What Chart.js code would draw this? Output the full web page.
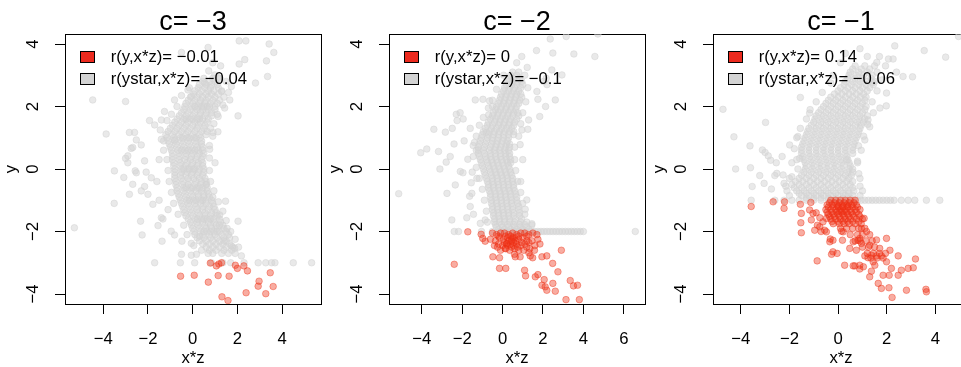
<!DOCTYPE html>
<html><head><meta charset="utf-8">
<script src="https://cdn.jsdelivr.net/npm/chart.js@4.4.1/dist/chart.umd.min.js"></script>
<style>
html,body{margin:0;padding:0;background:#fff;overflow:hidden;width:961px;height:367px;position:relative}
canvas{position:absolute;top:0}
</style></head><body>
<script>
// ---------------- DATA ----------------
const panelTitles = ['c= \u22123', 'c= \u22122', 'c= \u22121'];
const redLabels = ['r(y,x*z)= \u22120.01', 'r(y,x*z)= 0', 'r(y,x*z)= 0.14'];
const greyLabels = ['r(ystar,x*z)= \u22120.04', 'r(ystar,x*z)= \u22120.1', 'r(ystar,x*z)= \u22120.06'];
const xTicksC3 = [-4, -2, 0, 2, 4];
const xTicksC2 = [-4, -2, 0, 2, 4, 6];
const xTicksC1 = [-4, -2, 0, 2, 4];
const yTicks = [-4, -2, 0, 2, 4];
const xRangeC3 = [-5.71, 5.74];
const xRangeC2 = [-5.62, 7.05];
const xRangeC1 = [-5.14, 5.38];
const yRange = [-4.32, 4.32];

// panel c = -3 : grey (ystar) rows [y, [x...]] and scattered [x, y]
const greyRowsC3 = [
 [2.9,[0.5,0.9,1.2]],[2.7,[0.3,0.6,0.85,1.1]],[2.5,[0.1,0.4,0.7,0.95,1.3]],
 [2.3,[-0.1,0.2,0.45,0.7,1.0,1.4]],[2.1,[-0.3,0.0,0.3,0.55,0.8,1.1]],[1.9,[-0.4,-0.1,0.2,0.45,0.7,1.0]],
 [1.7,[-0.6,-0.3,0.0,0.3,0.55,0.85]],[1.5,[-0.8,-0.5,-0.2,0.1,0.35,0.65]],[1.3,[-1.0,-0.7,-0.4,-0.1,0.2,0.5,0.8]],
 [1.1,[-1.2,-0.9,-0.6,-0.3,0.0,0.3,0.6]],[0.9,[-1.1,-0.8,-0.5,-0.2,0.1,0.4]],[0.7,[-1.0,-0.7,-0.4,-0.1,0.2,0.45]],
 [0.5,[-0.9,-0.6,-0.3,0.0,0.3,0.5]],[0.3,[-0.9,-0.6,-0.35,-0.1,0.15,0.4]],[0.1,[-0.85,-0.55,-0.3,-0.05,0.2,0.45]],
 [-0.1,[-0.8,-0.5,-0.25,0.0,0.25,0.5]],[-0.3,[-0.8,-0.5,-0.2,0.05,0.3,0.55]],[-0.5,[-0.75,-0.45,-0.2,0.1,0.35,0.6]],
 [-0.7,[-0.7,-0.4,-0.1,0.15,0.4,0.65]],[-0.9,[-0.6,-0.3,0.0,0.25,0.5,0.75]],[-1.1,[-0.5,-0.2,0.1,0.35,0.6,0.9]],
 [-1.3,[-0.4,-0.1,0.2,0.45,0.7,1.0]],[-1.5,[-0.3,0.0,0.3,0.55,0.8,1.1]],[-1.7,[-0.1,0.2,0.45,0.7,0.95,1.25]],
 [-1.9,[0.0,0.3,0.6,0.85,1.1,1.4]],[-2.1,[0.1,0.45,0.75,1.0,1.3,1.6]],[-2.3,[0.3,0.6,0.9,1.2,1.5]],
 [-2.5,[0.6,0.9,1.2,1.5,1.8]],[-2.7,[0.9,1.3,1.6,1.9]],
 [2.8,[0.45,0.75,1.0]],[2.6,[0.25,0.55,0.8,1.15]],[2.4,[0.05,0.3,0.6,0.85,1.15]],[2.2,[-0.2,0.1,0.35,0.6,0.9,1.2]],
 [2.0,[-0.35,-0.05,0.25,0.5,0.75,1.0]],[1.8,[-0.5,-0.2,0.1,0.35,0.6,0.85]],[1.6,[-0.7,-0.4,-0.1,0.2,0.45,0.7]],
 [1.4,[-0.9,-0.6,-0.3,0.0,0.25,0.55]],[1.2,[-1.1,-0.8,-0.5,-0.2,0.1,0.4,0.65]],[1.0,[-1.15,-0.85,-0.55,-0.25,0.05,0.35]],
 [0.8,[-1.05,-0.75,-0.45,-0.15,0.15,0.4]],[0.6,[-0.95,-0.65,-0.35,-0.05,0.25,0.45]],[0.4,[-0.9,-0.6,-0.3,-0.05,0.2,0.45]],
 [0.2,[-0.85,-0.55,-0.25,0.0,0.25,0.45]],[0.0,[-0.8,-0.5,-0.2,0.05,0.3,0.5]],[-0.2,[-0.8,-0.55,-0.3,-0.05,0.2,0.45]],
 [-0.4,[-0.75,-0.45,-0.15,0.15,0.4,0.6]],[-0.6,[-0.7,-0.4,-0.1,0.2,0.45,0.65]],[-0.8,[-0.65,-0.35,-0.05,0.25,0.5,0.7]],
 [-1.0,[-0.55,-0.25,0.05,0.35,0.6,0.85]],[-1.2,[-0.45,-0.15,0.15,0.45,0.75,0.95]],[-1.4,[-0.35,-0.05,0.25,0.55,0.85,1.05]],
 [-1.6,[-0.2,0.1,0.4,0.65,0.95,1.2]],[-1.8,[-0.05,0.25,0.55,0.8,1.05,1.35]],[-2.0,[0.05,0.35,0.65,0.95,1.2,1.5]],
 [-2.2,[0.2,0.5,0.8,1.1,1.4,1.65]],[-2.4,[0.45,0.75,1.05,1.35,1.65]],[-2.6,[0.75,1.05,1.4,1.75]],
 [1.0,[-0.45,-0.15,0.15]],[0.0,[-0.4,-0.15,0.1]],[-1.0,[-0.15,0.15,0.45]],[2.0,[0.1,0.4,0.65]],
 [-2.0,[0.5,0.8,1.1]],[0.6,[-0.5,-0.2,0.1]],[-0.6,[-0.3,0.0,0.3]],[1.6,[-0.3,0.0,0.3]],[-1.6,[0.2,0.5,0.8]],
 [-3.0,[-1.7,-0.55,0.09,0.84,1.35,1.7,2.3,2.93,3.27,3.53,3.68,4.5,5.32]]
];
const greyScatterC3 = [
 [-4.47,2.21],[-3.0,2.16],[-3.87,1.12],[-5.29,-1.88],[-3.51,-1.1],[-3.5,-0.06],[-3.08,-0.27],[-2.83,1.17],[-2.6,1.17],
 [-2.68,0.69],[-2.9,0.42],[-3.0,0.34],[-2.9,0.2],[-2.52,-0.12],[-2.57,-0.06],[-2.68,-0.49],[-2.83,-0.81],[-2.3,-0.7],
 [-2.15,0.26],[-2.15,-0.56],[-2.33,-1.67],[-2.26,-2.11],[-2.0,-0.81],[-1.85,-0.28],[-2.08,-0.1],[-1.78,-1.13],[-1.33,-1.6],
 [-1.55,-1.81],[-1.37,-2.31],[-1.4,-1.56],[-0.96,-1.99],[-0.81,-2.11],[-0.48,-2.31],[-0.06,-2.38],[-0.5,-2.73],[-0.06,-2.76],
 [0.17,-2.73],[0.69,-2.7],[1.47,-1.03],[2.03,-1.67],[1.54,-1.9],[1.21,-1.47],[1.73,-2.46],[1.88,-2.54],[2.18,-2.78],
 [0.31,-2.15],[0.61,-0.49],[0.76,0.63],[0.91,1.17],[2.08,4.1],[2.38,4.1],[3.42,4.0],[3.63,3.73],[3.3,3.46],[3.35,2.96],
 [2.33,3.5],[2.08,3.36],[2.81,2.75],[2.03,1.7],[1.13,1.19],[0.69,3.89],[-0.5,3.73],[0.72,3.14],[1.13,2.93],
 [-1.93,1.55],[-1.7,1.41],[-1.26,1.84],[-0.81,2.21],[-0.21,2.53],[-0.06,2.32],[0.54,2.75],[0.99,3.01],[1.29,2.48],
 [1.73,2.64],[1.66,2.21],[1.43,1.95],[1.14,1.68],[-2.52,0.93],[-2.75,0.66],[-2.3,0.77],[-1.4,1.57],[-0.81,0.93],
 [-1.5,0.3],[-1.6,-0.4],[-1.3,0.9],[-1.5,-1.0],[-1.1,-1.3],[1.0,0.2],[0.9,-0.9],[1.2,-1.8],[1.4,-2.3],
 [-0.15,2.6],[-0.5,2.35],[-0.7,2.0],[-0.95,1.75],[-1.15,1.55],[-1.45,1.25],[-1.4,0.95],[-1.3,0.6],[-1.15,0.3],
 [-1.1,-0.05],[-1.05,-0.4],[-0.95,-0.75],[-0.85,-1.1],[-0.65,-1.45],[-0.4,-1.8],[-0.25,-2.1],[0.05,-2.45],[0.4,-2.6],
 [1.5,2.8],[1.6,2.45],[1.35,2.05],[1.1,1.75],[0.95,1.45],[0.9,1.05],[0.75,0.75],[0.75,0.35],[0.75,-0.05],[0.8,-0.4],
 [0.95,-0.7],[1.15,-1.05],[1.35,-1.35],[1.5,-1.65],[1.7,-2.0],[1.9,-2.25],[2.05,-2.5],[1.25,3.3],[0.9,3.4]
];
const redC3 = [
 [0.79,-3.01],[1.06,-3.10],[1.17,-3.04],[1.29,-3.0],[1.91,-3.08],[2.0,-3.18],[2.29,-3.10],[2.45,-3.26],[-0.54,-3.43],
 [0.07,-3.40],[0.70,-3.62],[1.14,-3.41],[1.63,-3.43],[2.97,-3.59],[2.93,-3.75],[3.47,-3.32],[3.6,-3.76],[2.39,-3.96],
 [3.27,-3.99],[1.31,-4.09],[1.58,-4.21]
];

// panel c = -2
const greyRowsC2 = [
 [3.1,[0.5,0.8]],[2.9,[0.3,0.55,0.85]],[2.7,[0.2,0.45,0.7,1.0]],[2.5,[0.05,0.3,0.55,0.8]],
 [2.3,[-0.1,0.15,0.4,0.65,0.95]],[2.1,[-0.2,0.05,0.3,0.55,0.8]],[1.9,[-0.35,-0.1,0.15,0.4,0.65]],
 [1.7,[-0.5,-0.25,0.0,0.25,0.5,0.8]],[1.5,[-0.7,-0.4,-0.15,0.1,0.35,0.6]],[1.3,[-0.85,-0.55,-0.3,-0.05,0.2,0.45]],
 [1.1,[-1.0,-0.7,-0.45,-0.2,0.05,0.3,0.55]],[0.9,[-1.1,-0.8,-0.5,-0.25,0.0,0.25]],[0.7,[-1.2,-0.9,-0.6,-0.35,-0.1,0.15,0.35]],
 [0.5,[-1.2,-0.9,-0.6,-0.35,-0.1,0.15,0.35]],[0.3,[-1.1,-0.8,-0.55,-0.3,-0.05,0.2,0.4]],[0.1,[-1.0,-0.7,-0.45,-0.2,0.05,0.3]],
 [-0.1,[-0.9,-0.6,-0.35,-0.1,0.15,0.4]],[-0.3,[-0.8,-0.5,-0.25,0.0,0.25,0.5]],[-0.5,[-0.7,-0.45,-0.2,0.05,0.3,0.55]],
 [-0.7,[-0.65,-0.4,-0.15,0.1,0.35,0.6]],[-0.9,[-0.6,-0.35,-0.1,0.15,0.4,0.7]],[-1.1,[-0.55,-0.3,-0.05,0.2,0.45,0.75]],
 [-1.3,[-0.5,-0.25,0.0,0.25,0.5,0.8]],[-1.5,[-0.45,-0.2,0.05,0.3,0.55,0.85]],[-1.7,[-0.4,-0.15,0.1,0.35,0.6,0.9,1.2]],
 [-1.85,[-0.3,0.0,0.3,0.6,0.9,1.2]],
 [3.0,[0.4,0.7]],[2.8,[0.25,0.5,0.75,0.95]],[2.6,[0.1,0.35,0.6,0.9]],[2.4,[-0.05,0.2,0.45,0.7,0.9]],
 [2.2,[-0.15,0.1,0.35,0.6,0.85]],[2.0,[-0.3,-0.05,0.2,0.45,0.7]],[1.8,[-0.45,-0.2,0.05,0.3,0.55,0.75]],
 [1.6,[-0.6,-0.35,-0.1,0.15,0.4,0.7]],[1.4,[-0.75,-0.5,-0.2,0.05,0.3,0.55]],[1.2,[-0.95,-0.65,-0.4,-0.15,0.1,0.35,0.55]],
 [1.0,[-1.05,-0.75,-0.5,-0.2,0.05,0.3]],[0.8,[-1.15,-0.85,-0.55,-0.3,-0.05,0.2,0.35]],[0.6,[-1.2,-0.95,-0.65,-0.4,-0.15,0.1,0.3]],
 [0.4,[-1.15,-0.85,-0.6,-0.35,-0.1,0.15,0.35]],[0.2,[-1.05,-0.75,-0.5,-0.25,0.0,0.25,0.4]],[0.0,[-0.95,-0.65,-0.4,-0.15,0.1,0.35]],
 [-0.2,[-0.85,-0.55,-0.3,-0.05,0.2,0.45]],[-0.4,[-0.75,-0.5,-0.25,0.0,0.25,0.5]],[-0.6,[-0.7,-0.45,-0.2,0.05,0.3,0.55]],
 [-0.8,[-0.6,-0.35,-0.1,0.15,0.4,0.65]],[-1.0,[-0.55,-0.3,-0.05,0.2,0.45,0.7]],[-1.2,[-0.5,-0.25,0.0,0.25,0.5,0.8]],
 [-1.4,[-0.45,-0.2,0.05,0.3,0.55,0.85]],[-1.6,[-0.4,-0.15,0.1,0.35,0.65,0.95]],[-1.78,[-0.35,-0.05,0.25,0.55,0.85,1.1]],
 [-1.93,[-0.2,0.1,0.4,0.7,1.0,1.3]],
 [-2.0,[-2.39,-2.18,-1.04,-0.5,-0.2,-0.05,0.1,0.25,0.4,0.55,0.7,0.85,1.0,1.15,1.3,1.45,1.6,1.75,1.9,2.05,2.2,2.35,2.5,2.65,2.8,2.95,3.1,3.25,3.4,3.55,3.7,3.85,4.0,6.57]]
];
const greyScatterC2 = [
 [3.15,4.24],[2.36,4.16],[4.72,4.32],[4.57,3.6],[3.53,3.68],[2.49,3.71],[1.68,3.79],[2.16,2.9],[2.2,2.7],[1.22,3.25],
 [1.75,2.23],[2.13,2.0],[1.25,1.27],[0.87,0.78],[2.44,3.17],[2.94,3.01],[2.03,2.8],[1.7,2.48],[2.61,2.21],[1.84,1.68],
 [1.29,1.57],[0.96,1.25],[-5.14,-0.79],[-4.05,0.52],[-3.75,0.64],[-3.4,1.27],[-2.83,1.18],[-2.49,1.3],[-2.29,1.75],
 [-2.1,1.8],[-1.95,1.6],[-2.25,1.55],[-1.35,2.21],[-1.6,1.3],[-0.69,1.73],[-3.17,0.56],[-2.59,0.4],[-2.79,0.22],
 [-3.1,0.0],[-2.75,-0.78],[-2.51,-1.63],[-2.34,-0.51],[-2.09,-0.08],[-1.77,-1.56],[-1.6,-1.2],[-1.44,-1.45],[-1.52,-0.78],
 [-1.27,-0.3],[-1.1,-1.74],[-0.86,-1.63],[-1.63,-0.87],[-1.55,-0.44],[-1.96,-0.12],[-1.72,0.31],[-1.39,0.85],[-1.3,0.6],
 [-0.81,1.17],[-0.97,2.23],[-0.64,2.18],[-0.5,2.0],[1.12,-1.29],[1.2,-0.99],[1.45,-1.79],[0.9,-0.4],[1.0,0.3],
 [-1.9,0.9],[-1.5,-0.1],[-2.4,0.8],
 [0.05,3.0],[-0.3,2.55],[-0.5,2.2],[-0.7,1.95],[-0.95,1.65],[-1.15,1.4],[-1.3,1.05],[-1.45,0.75],[-1.45,0.4],
 [-1.3,0.05],[-1.15,-0.3],[-1.0,-0.65],[-0.9,-1.0],[-0.8,-1.35],[-0.75,-1.7],[1.1,3.0],[1.25,2.6],[1.15,2.15],
 [1.0,1.8],[0.9,1.45],[0.8,1.05],[0.6,0.7],[0.6,0.3],[0.65,-0.05],[0.75,-0.4],[0.9,-0.75],[1.0,-1.1],[1.1,-1.45],
 [1.45,-1.75],[0.7,3.4],[0.95,3.6]
];
const redRowsC2 = [
 [-2.05,[-0.5,-0.1,0.1,0.5,0.9,1.1,1.5]],[-2.1,[-0.3,0.3,0.7,1.3,1.7]],[-2.2,[-0.15,0.25,0.5,0.6,1.0]],
 [-2.25,[-0.6,0.05,0.45,0.8,1.75]],[-2.3,[-0.35,0.3,0.45,0.65,1.2,1.45]],[-2.4,[-0.2,0.2,0.4,0.7,1.1,1.85]],
 [-2.45,[-0.4,0.0,0.25,0.55,0.9,1.6]],[-2.55,[0.15,0.6,1.35]],[-2.6,[-0.1,0.35,0.8,1.05]],[-2.68,[1.3]],
 [-2.15,[-0.2,0.15,0.4,0.8,1.2]],[-2.35,[0.1,0.55,0.95,1.3]],[-2.5,[-0.25,0.45,0.75,1.2]]
];
const redC2 = [
 [-1.72,-2.01],[-1.06,-2.09],[-0.98,-2.22],[-0.86,-2.31],[-2.39,-3.05],[-0.48,-2.81],[-0.15,-2.84],[-0.15,-3.18],
 [0.16,-3.18],[1.09,-3.24],[1.14,-3.42],[1.62,-3.45],[1.75,-3.38],[2.06,-3.54],[1.95,-3.72],[2.11,-3.77],[2.19,-3.88],
 [2.49,-3.66],[2.61,-3.91],[2.74,-3.29],[2.48,-3.02],[2.91,-2.6],[3.35,-3.57],[3.51,-3.74],[3.71,-3.72],[3.14,-4.18],
 [3.8,-4.18],[1.58,-2.6],[1.95,-2.81],[2.19,-2.78],[1.37,-2.78],[0.87,-2.81],[0.63,-2.81],[0.59,-2.73],[1.49,-2.84],
 [0.21,-2.38],[0.13,-2.54]
];

// panel c = -1
const greyRowsC1 = [
 [3.3,[0.7,1.1,1.5]],[3.1,[0.5,0.85,1.2,1.6]],[2.9,[0.4,0.7,1.0,1.35]],[2.7,[0.25,0.55,0.85,1.15,1.45]],
 [2.5,[0.0,0.3,0.6,0.9,1.2]],[2.3,[-0.3,0.0,0.3,0.6,0.9,1.15]],[2.1,[-0.5,-0.2,0.1,0.4,0.7,1.0]],
 [1.9,[-0.7,-0.4,-0.1,0.2,0.5,0.8,1.1]],[1.7,[-0.9,-0.6,-0.3,0.0,0.3,0.6,0.9,1.2]],[1.5,[-1.0,-0.7,-0.4,-0.1,0.2,0.5,0.8,1.05]],
 [1.3,[-1.2,-0.9,-0.6,-0.3,0.0,0.3,0.6,0.9]],[1.1,[-1.3,-1.0,-0.7,-0.4,-0.1,0.2,0.5,0.8]],[0.9,[-1.4,-1.1,-0.8,-0.5,-0.2,0.1,0.4,0.7]],
 [0.7,[-1.5,-1.2,-0.9,-0.6,-0.3,0.0,0.3,0.6]],[0.5,[-1.5,-1.2,-0.9,-0.6,-0.3,0.0,0.3,0.6]],[0.3,[-1.4,-1.1,-0.8,-0.5,-0.2,0.1,0.4]],
 [0.1,[-1.3,-1.0,-0.7,-0.4,-0.1,0.2,0.5]],[-0.1,[-1.4,-1.1,-0.8,-0.5,-0.2,0.1,0.4,0.6]],[-0.3,[-1.6,-1.3,-1.0,-0.7,-0.4,-0.1,0.2,0.45]],
 [-0.5,[-1.9,-1.6,-1.3,-1.0,-0.7,-0.4,-0.1,0.2,0.5]],[-0.7,[-1.7,-1.4,-1.1,-0.8,-0.5,-0.2,0.1,0.4,0.65]],
 [-0.85,[-1.5,-1.2,-0.9,-0.6,-0.3,0.0,0.3,0.6]],
 [3.2,[0.6,0.95,1.3]],[3.0,[0.45,0.75,1.05,1.4]],[2.8,[0.3,0.6,0.9,1.2,1.5]],[2.6,[0.1,0.4,0.7,1.0,1.3]],
 [2.4,[-0.15,0.15,0.45,0.75,1.05]],[2.2,[-0.4,-0.1,0.2,0.5,0.8,1.1]],[2.0,[-0.6,-0.3,0.0,0.3,0.6,0.9,1.15]],
 [1.8,[-0.8,-0.5,-0.2,0.1,0.4,0.7,1.0]],[1.6,[-0.95,-0.65,-0.35,-0.05,0.25,0.55,0.85,1.1]],
 [1.4,[-1.1,-0.8,-0.5,-0.2,0.1,0.4,0.7,0.95]],[1.2,[-1.25,-0.95,-0.65,-0.35,-0.05,0.25,0.55,0.85]],
 [1.0,[-1.35,-1.05,-0.75,-0.45,-0.15,0.15,0.45,0.75]],[0.8,[-1.45,-1.15,-0.85,-0.55,-0.25,0.05,0.35,0.65]],
 [0.6,[-1.5,-1.2,-0.9,-0.6,-0.3,0.0,0.3,0.6]],[0.4,[-1.45,-1.15,-0.85,-0.55,-0.25,0.05,0.35]],
 [0.2,[-1.35,-1.05,-0.75,-0.45,-0.15,0.15,0.45]],[0.0,[-1.35,-1.05,-0.75,-0.45,-0.15,0.15,0.45,0.6]],
 [-0.2,[-1.5,-1.2,-0.9,-0.6,-0.3,0.0,0.3,0.55]],[-0.4,[-1.75,-1.45,-1.15,-0.85,-0.55,-0.25,0.05,0.35,0.6]],
 [-0.6,[-1.8,-1.5,-1.2,-0.9,-0.6,-0.3,0.0,0.3,0.6]],[-0.78,[-1.6,-1.3,-1.0,-0.7,-0.4,-0.1,0.2,0.45]],
 [-0.93,[-1.3,-1.0,-0.7,-0.4,-0.1,0.2,0.5]],
 [-1.0,[-3.57,-2.6,-2.22,-1.9,-1.6,-1.3,-1.0,-0.7,-0.4,-0.25,-0.1,0.05,0.2,0.35,0.5,0.65,0.8,0.95,1.1,1.25,1.4,1.55,1.7,1.85,2.0,2.15,2.3,2.6,2.88,3.15,3.63,4.18]]
];
const greyScatterC1 = [
 [-4.73,1.91],[-4.28,1.03],[-3.62,0.74],[-3.6,0.04],[-2.98,1.49],[-3.0,0.53],[-2.87,0.42],[-2.77,0.28],[-2.52,-0.14],
 [-1.55,2.29],[-1.17,1.79],[2.33,3.94],[2.26,3.52],[2.07,3.52],[3.54,3.79],[4.42,3.58],[4.95,4.24],[3.06,2.95],[2.67,2.96],
 [1.99,2.43],[1.98,2.02],[1.72,1.95],[1.23,1.57],[1.22,1.43],[1.1,0.93],[0.84,0.74],[0.34,0.29],[1.59,3.41],[1.43,2.77],
 [-3.11,0.61],[-2.54,0.2],[-1.99,0.77],[-1.65,1.04],[-1.58,0.34],[-4.21,0.0],[-3.22,-0.21],[-3.04,-0.46],[-2.74,-0.64],
 [-2.6,-0.21],[-2.26,-0.19],[-2.22,-0.46],[-3.53,-0.56],[-2.0,-0.3],[-2.1,-0.7],[-1.9,0.2],[-2.3,0.4],[0.9,-0.3],
 [0.8,0.2],[1.0,-0.7],[2.4,3.1],[0.3,3.7],[0.9,3.85],[-0.2,3.0],
 [0.1,3.4],[-0.3,2.75],[-0.65,2.45],[-0.9,2.15],[-1.15,1.9],[-1.3,1.6],[-1.55,1.3],[-1.7,1.0],[-1.8,0.65],
 [-1.7,0.3],[-1.65,0.0],[-1.9,-0.25],[-2.15,-0.55],[-2.0,-0.85],[1.95,3.3],[1.8,2.85],[1.6,2.5],[1.4,2.15],
 [1.45,1.8],[1.3,1.35],[1.05,1.05],[0.95,0.6],[0.8,0.25],[0.85,-0.15],[0.9,-0.55],[0.9,-0.85],[1.2,3.6],[1.7,3.6]
];
const redRowsC1 = [
 [-1.0,[-0.3,-0.1,0.1,0.3,0.5,0.7]],[-1.15,[-0.45,-0.25,-0.05,0.15,0.35,0.55,0.75]],
 [-1.3,[-0.5,-0.3,-0.1,0.1,0.3,0.5,0.7,0.9]],[-1.45,[-0.4,-0.2,0.0,0.2,0.4,0.6,0.85]],
 [-1.6,[-0.3,-0.1,0.1,0.3,0.5,0.75,1.0]],[-1.75,[-0.2,0.05,0.25,0.45,0.7,0.95]],[-1.9,[0.1,0.35,0.6,0.85,1.1]],
 [-1.2,[0.0,0.2,0.4]],[-1.35,[0.05,0.25]],[-2.1,[0.5,0.8,1.0,1.3]],[-2.3,[0.7,0.9,1.15,1.4]],
 [-2.5,[1.0,1.25,1.5]],[-2.7,[1.2,1.45,1.7,1.95]],[-2.85,[1.35,1.6,1.85]],
 [-1.08,[-0.35,-0.15,0.05,0.25,0.45,0.65]],[-1.22,[-0.4,-0.2,0.0,0.2,0.4,0.6,0.8]],
 [-1.38,[-0.45,-0.25,-0.05,0.15,0.35,0.55,0.75]],[-1.52,[-0.35,-0.15,0.05,0.25,0.45,0.65,0.9]],
 [-1.68,[-0.25,0.0,0.2,0.4,0.6,0.85]]
];
const redC1 = [
 [-3.57,-1.2],[-2.67,-1.05],[-2.22,-1.26],[-2.2,-1.05],[-1.55,-1.13],[-1.51,-1.42],[-1.53,-1.72],[-1.51,-2.04],
 [-1.12,-1.07],[-1.17,-1.31],[-1.03,-1.42],[-1.1,-1.63],[-0.75,-1.56],[-0.62,-1.69],[-0.75,-1.85],[-0.96,-1.96],
 [-0.48,-2.01],[-0.32,-2.24],[-0.86,-2.94],[-0.27,-2.73],[-0.04,-2.7],[0.27,-3.08],[0.69,-3.1],[0.89,-3.2],[1.3,-3.45],
 [1.65,-3.66],[1.78,-3.82],[2.22,-4.11],[2.09,-3.8],[2.81,-3.88],[3.61,-3.85],[3.63,-3.93],[3.18,-2.88],[3.09,-3.16],
 [2.6,-3.24],[2.47,-2.78],[2.13,-2.6],[1.99,-2.97],[2.19,-3.18],[2.1,-3.4],[1.85,-3.4],[1.51,-3.08],[1.04,-3.13],
 [1.37,-2.76],[1.78,-2.78],[1.71,-2.54],[1.58,-2.27],[1.99,-2.22],[1.3,-2.44],[0.96,-1.9],[1.17,-2.0],[0.89,-2.22],
 [0.21,-2.01],[-0.21,-2.28],[-0.34,-2.33],[-0.21,-2.65],[-0.55,-1.96],[-0.48,-1.58],[1.07,-1.58],[0.14,-1.99],
 [0.18,-2.28],[0.48,-2.54],[0.62,-2.33],[0.82,-2.28],[0.96,-2.38],[0.75,-2.6],[1.1,-2.78],[1.23,-2.84],[1.58,-2.78],
 [1.44,-2.97],[0.89,-3.08],[0.62,-3.1],[1.37,-3.27],[2.47,-3.4],[2.88,-3.18],[-0.9,-1.4],[-0.85,-1.8],[-0.7,-2.0]
];

// ---------------- STYLE / LAYOUT ----------------
const FONT = "'Liberation Sans', Arial, Helvetica, sans-serif";
const FS = 16.7;
const BOX_W = 256, SIDE = 65;
const boxLefts = [65, 389, 713];
const greyPoint = 'rgba(211,211,211,0.5)';
const redPoint = 'rgba(238,48,20,0.4)';
const legendFills = ['#EC2A1E', '#D3D3D3'];

function rowsToPts(rows){ const out=[]; rows.forEach(r=>r[1].forEach(x=>out.push({x:x,y:r[0]}))); return out; }
function pairsToPts(p){ return p.map(q=>({x:q[0],y:q[1]})); }
function fmt(v){ return v<0 ? '\u2212'+Math.abs(v) : String(v); }

const panels = [
 {title:panelTitles[0], xr:xRangeC3, xt:xTicksC3, red:pairsToPts(redC3), grey:rowsToPts(greyRowsC3).concat(pairsToPts(greyScatterC3))},
 {title:panelTitles[1], xr:xRangeC2, xt:xTicksC2, red:rowsToPts(redRowsC2).concat(pairsToPts(redC2)), grey:rowsToPts(greyRowsC2).concat(pairsToPts(greyScatterC2))},
 {title:panelTitles[2], xr:xRangeC1, xt:xTicksC1, red:rowsToPts(redRowsC1).concat(pairsToPts(redC1)), grey:rowsToPts(greyRowsC1).concat(pairsToPts(greyScatterC1))}
];

const legendInside = {
  id:'legendInside',
  afterDraw(chart){
    const a = chart.chartArea, ctx = chart.ctx;
    ctx.save();
    ctx.font = FS + 'px ' + FONT;
    ctx.textBaseline = 'middle'; ctx.textAlign = 'left';
    chart.data.datasets.forEach((ds,i)=>{
      const top = Math.round(a.top + 17 + i*21.7);
      ctx.fillStyle = legendFills[i];
      ctx.fillRect(a.left+15.5, top+0.5, 14, 11);
      ctx.strokeStyle = '#000'; ctx.lineWidth = 1;
      ctx.strokeRect(a.left+15.5, top+0.5, 14, 11);
      ctx.fillStyle = '#000';
      ctx.fillText(ds.label, a.left+45.7, top+6.5);
    });
    ctx.restore();
  }
};

const tickFont = {family:FONT, size:FS};
const blackGrid = {display:true, drawOnChartArea:false, drawTicks:true, tickLength:10, color:'#000', lineWidth:1};
const blackBorder = {display:true, color:'#000', width:1};

panels.forEach((p,i)=>{
  const cv = document.createElement('canvas');
  cv.width = BOX_W + 2*SIDE; cv.height = 367;
  cv.style.left = (boxLefts[i]-SIDE)+'px';
  cv.style.width = cv.width+'px'; cv.style.height = '367px';
  document.body.appendChild(cv);
  new Chart(cv, {
    type:'scatter',
    data:{ datasets:[
      {label:redLabels[i], data:p.red, backgroundColor:redPoint, borderColor:redPoint, borderWidth:1, pointRadius:3.3, pointHoverRadius:3.3, clip:0},
      {label:greyLabels[i], data:p.grey, backgroundColor:greyPoint, borderColor:greyPoint, borderWidth:1, pointRadius:3.3, pointHoverRadius:3.3, clip:0}
    ]},
    options:{
      responsive:false, animation:false, devicePixelRatio:1,
      layout:{padding:0},
      events:[],
      plugins:{
        legend:{display:false}, tooltip:{enabled:false},
        title:{display:true, text:p.title, color:'#000', font:{family:FONT, size:27, weight:'normal', lineHeight:'23px'}, padding:{top:11, bottom:0}}
      },
      scales:{
        x:{type:'linear', position:'bottom', min:p.xr[0], max:p.xr[1], z:1,
           afterBuildTicks:s=>{ s.ticks = p.xt.map(v=>({value:v})); },
           afterFit:s=>{ s.height = 63; },
           ticks:{autoSkip:false, maxRotation:0, font:tickFont, color:'#000', padding:15, callback:v=>fmt(v)},
           grid:blackGrid, border:blackBorder,
           title:{display:true, text:'x*z', color:'#000', font:{family:FONT,size:FS}, padding:{top:0,bottom:-1}}},
        y:{type:'linear', position:'left', min:yRange[0], max:yRange[1], z:1,
           afterBuildTicks:s=>{ s.ticks = yTicks.map(v=>({value:v})); },
           afterFit:s=>{ s.width = SIDE; },
           ticks:{autoSkip:false, minRotation:90, maxRotation:90, crossAlign:'center', font:tickFont, color:'#000', padding:12.5, callback:v=>fmt(v)},
           grid:blackGrid, border:blackBorder,
           title:{display:true, text:'y', color:'#000', font:{family:FONT,size:FS}, padding:{top:1,bottom:0}}},
        yR:{type:'linear', position:'right', display:true, z:1, afterFit:s=>{ s.width = SIDE; },
           grid:{display:false}, ticks:{display:false}, border:blackBorder},
        xT:{type:'linear', position:'top', display:true, z:1, afterFit:s=>{ s.height = 0; },
           grid:{display:false}, ticks:{display:false}, border:blackBorder}
      }
    },
    plugins:[legendInside]
  });
});
</script>
</body></html>
